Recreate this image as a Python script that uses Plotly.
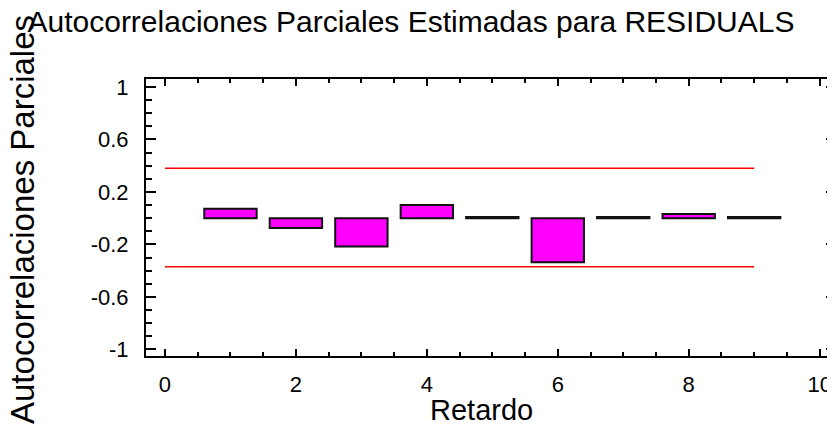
import plotly.graph_objects as go

lags = [1, 2, 3, 4, 5, 6, 7, 8, 9]
pacf = [0.072, -0.075, -0.215, 0.10, 0.008, -0.335, 0.008, 0.032, 0.008]
limit_x = [0, 9]
upper_limit = [0.38, 0.38]
lower_limit = [-0.37, -0.37]
y_tickvals = [-1, -0.6, -0.2, 0.2, 0.6, 1]
y_ticktext = ["-1", "-0.6", "-0.2", "0.2", "0.6", "1"]
x_tickvals = [0, 2, 4, 6, 8, 10]
x_ticktext = ["0", "2", "4", "6", "8", "10"]

FONT = "Liberation Sans, Arial, sans-serif"
# page body has an 8px offset; figure coordinates = screen - 8
L, T, R, B = 138, 71, 7, 86
W, H = 835, 434
PW, PH = W - L - R, H - T - B


def px(fx):
    return (fx - L) / PW


def py(fy):
    return (H - B - fy) / PH


fig = go.Figure()
fig.add_trace(go.Bar(
    x=lags, y=pacf, width=0.8,
    marker=dict(color="#FF00FF", line=dict(color="#111111", width=2)),
    showlegend=False,
))
fig.add_trace(go.Scatter(x=limit_x, y=upper_limit, mode="lines",
                         line=dict(color="#FF0000", width=1.5), showlegend=False))
fig.add_trace(go.Scatter(x=limit_x, y=lower_limit, mode="lines",
                         line=dict(color="#FF0000", width=1.5), showlegend=False))

fig.update_layout(
    width=W, height=H,
    margin=dict(l=L, r=R, t=T, b=B, autoexpand=False),
    paper_bgcolor="white", plot_bgcolor="white",
    font=dict(family=FONT, color="black", size=22),
    title=dict(text="Autocorrelaciones Parciales Estimadas para RESIDUALS",
               x=403/W, xref="container", xanchor="center",
               y=1-13/H, yref="container", yanchor="middle",
               font=dict(family=FONT, size=30, color="black")),
)
fig.update_xaxes(
    range=[-0.29, 10.25], tickvals=x_tickvals, ticktext=x_ticktext,
    ticks="inside", ticklen=7, tickwidth=2, tickcolor="black",
    showline=True, linecolor="black", linewidth=2, mirror="allticks",
    showgrid=False, zeroline=False,
    minor=dict(dtick=0.5, tick0=0, ticks="inside", ticklen=4, tickwidth=2,
               tickcolor="black", showgrid=False),
    tickfont=dict(size=22), ticklabelstandoff=8,
)
fig.update_yaxes(
    range=[-1.05, 1.06], tickvals=y_tickvals, ticktext=y_ticktext,
    ticks="inside", ticklen=10, tickwidth=2, tickcolor="black",
    showline=True, linecolor="black", linewidth=2, mirror="allticks",
    showgrid=False, zeroline=False,
    minor=dict(dtick=0.1, tick0=-1, ticks="inside", ticklen=6, tickwidth=2,
               tickcolor="black", showgrid=False),
    tickfont=dict(size=22), ticklabelstandoff=11,
)
fig.add_annotation(text="Autocorrelaciones Parciales", textangle=-90,
                   xref="paper", yref="paper", x=px(14), y=py(212),
                   xanchor="center", yanchor="middle", showarrow=False,
                   font=dict(family=FONT, size=33, color="black"))
fig.add_annotation(text="Retardo",
                   xref="paper", yref="paper", x=px(473), y=py(402),
                   xanchor="center", yanchor="middle", showarrow=False,
                   font=dict(family=FONT, size=29, color="black"))

fig.write_html("out.html")
